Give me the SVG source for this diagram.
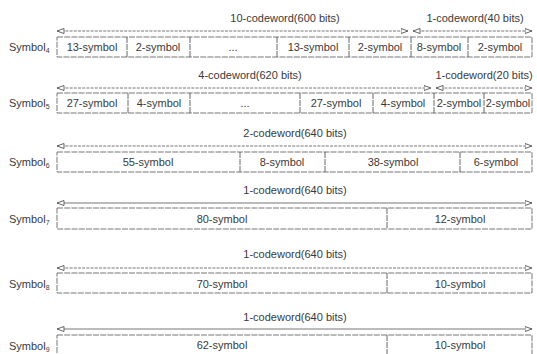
<svg xmlns="http://www.w3.org/2000/svg" width="537" height="354" viewBox="0 0 537 354">
<style>
text{font-family:"Liberation Sans",Arial,sans-serif;font-size:11px;fill:#3a3a3a}
.c{text-anchor:middle}
.box{fill:#fff;stroke:#666;stroke-width:0.9;stroke-dasharray:6 1.2}
.div{stroke:#555;stroke-width:0.9;stroke-dasharray:6 1}
.arr{stroke:#666;stroke-width:0.9;fill:none;marker-start:url(#ah);marker-end:url(#ah)}
.dash{stroke-dasharray:3 1.2}
</style>
<defs>
<marker id="ah" viewBox="0 0 8 6" refX="7.5" refY="3" markerWidth="8" markerHeight="6" markerUnits="userSpaceOnUse" orient="auto-start-reverse">
<path d="M0.5,0.5 L7.5,3 L0.5,5.5 Z" fill="#fff" stroke="#555" stroke-width="0.9"/>
</marker>
</defs>
<g id="connectors">
<line class="arr dash" x1="57" y1="31" x2="408" y2="31"/>
<line class="arr dash" x1="413" y1="31" x2="532" y2="31"/>
<line class="arr dash" x1="57" y1="88" x2="431" y2="88"/>
<line class="arr dash" x1="436" y1="88" x2="532" y2="88"/>
<line class="arr dash" x1="57" y1="146" x2="532" y2="146"/>
<line class="arr" x1="57" y1="203" x2="532" y2="203"/>
<line class="arr dash" x1="57" y1="268" x2="532" y2="268"/>
<line class="arr" x1="57" y1="329" x2="532" y2="329"/>
</g>
<g id="row4">
<text class="c" x="285" y="22">10-codeword(600 bits)</text>
<text class="c" x="475" y="22">1-codeword(40 bits)</text>
<text x="9" y="51">Symbol<tspan font-size="7" dy="2">4</tspan></text>
<rect class="box" x="57" y="37" width="475" height="20"/>
<line class="div" x1="127" y1="37" x2="127" y2="57"/>
<line class="div" x1="190" y1="37" x2="190" y2="57"/>
<line class="div" x1="277" y1="37" x2="277" y2="57"/>
<line class="div" x1="349" y1="37" x2="349" y2="57"/>
<line class="div" x1="411" y1="37" x2="411" y2="57"/>
<line class="div" x1="468" y1="37" x2="468" y2="57"/>
<text class="c" x="92" y="51">13-symbol</text>
<text class="c" x="158" y="51">2-symbol</text>
<text class="c" x="233" y="51">...</text>
<text class="c" x="313" y="51">13-symbol</text>
<text class="c" x="380" y="51">2-symbol</text>
<text class="c" x="439" y="51">8-symbol</text>
<text class="c" x="500" y="51">2-symbol</text>
</g>
<g id="row5">
<text class="c" x="250" y="79">4-codeword(620 bits)</text>
<text class="c" x="484" y="79">1-codeword(20 bits)</text>
<text x="9" y="107">Symbol<tspan font-size="7" dy="2">5</tspan></text>
<rect class="box" x="57" y="93" width="475" height="20"/>
<line class="div" x1="128" y1="93" x2="128" y2="113"/>
<line class="div" x1="190" y1="93" x2="190" y2="113"/>
<line class="div" x1="300" y1="93" x2="300" y2="113"/>
<line class="div" x1="373" y1="93" x2="373" y2="113"/>
<line class="div" x1="434" y1="93" x2="434" y2="113"/>
<line class="div" x1="484" y1="93" x2="484" y2="113"/>
<text class="c" x="92" y="107">27-symbol</text>
<text class="c" x="159" y="107">4-symbol</text>
<text class="c" x="245" y="107">...</text>
<text class="c" x="336" y="107">27-symbol</text>
<text class="c" x="403" y="107">4-symbol</text>
<text class="c" x="459" y="107">2-symbol</text>
<text class="c" x="508" y="107">2-symbol</text>
</g>
<g id="row6">
<text class="c" x="295" y="137">2-codeword(640 bits)</text>
<text x="9" y="166">Symbol<tspan font-size="7" dy="2">6</tspan></text>
<rect class="box" x="57" y="152" width="475" height="20"/>
<line class="div" x1="240" y1="152" x2="240" y2="172"/>
<line class="div" x1="325" y1="152" x2="325" y2="172"/>
<line class="div" x1="460" y1="152" x2="460" y2="172"/>
<text class="c" x="148" y="166">55-symbol</text>
<text class="c" x="282" y="166">8-symbol</text>
<text class="c" x="393" y="166">38-symbol</text>
<text class="c" x="496" y="166">6-symbol</text>
</g>
<g id="row7">
<text class="c" x="295" y="194">1-codeword(640 bits)</text>
<text x="9" y="223">Symbol<tspan font-size="7" dy="2">7</tspan></text>
<rect class="box" x="57" y="208" width="475" height="21"/>
<line class="div" x1="387" y1="208" x2="387" y2="229"/>
<text class="c" x="222" y="223">80-symbol</text>
<text class="c" x="460" y="223">12-symbol</text>
</g>
<g id="row8">
<text class="c" x="295" y="258">1-codeword(640 bits)</text>
<text x="9" y="288">Symbol<tspan font-size="7" dy="2">8</tspan></text>
<rect class="box" x="57" y="273" width="475" height="20"/>
<line class="div" x1="387" y1="273" x2="387" y2="293"/>
<text class="c" x="222" y="288">70-symbol</text>
<text class="c" x="460" y="288">10-symbol</text>
</g>
<g id="row9">
<text class="c" x="295" y="321">1-codeword(640 bits)</text>
<text x="9" y="350">Symbol<tspan font-size="7" dy="2">9</tspan></text>
<rect class="box" x="57" y="335" width="475" height="20"/>
<line class="div" x1="387" y1="335" x2="387" y2="355"/>
<text class="c" x="222" y="349">62-symbol</text>
<text class="c" x="460" y="349">10-symbol</text>
</g>
</svg>
